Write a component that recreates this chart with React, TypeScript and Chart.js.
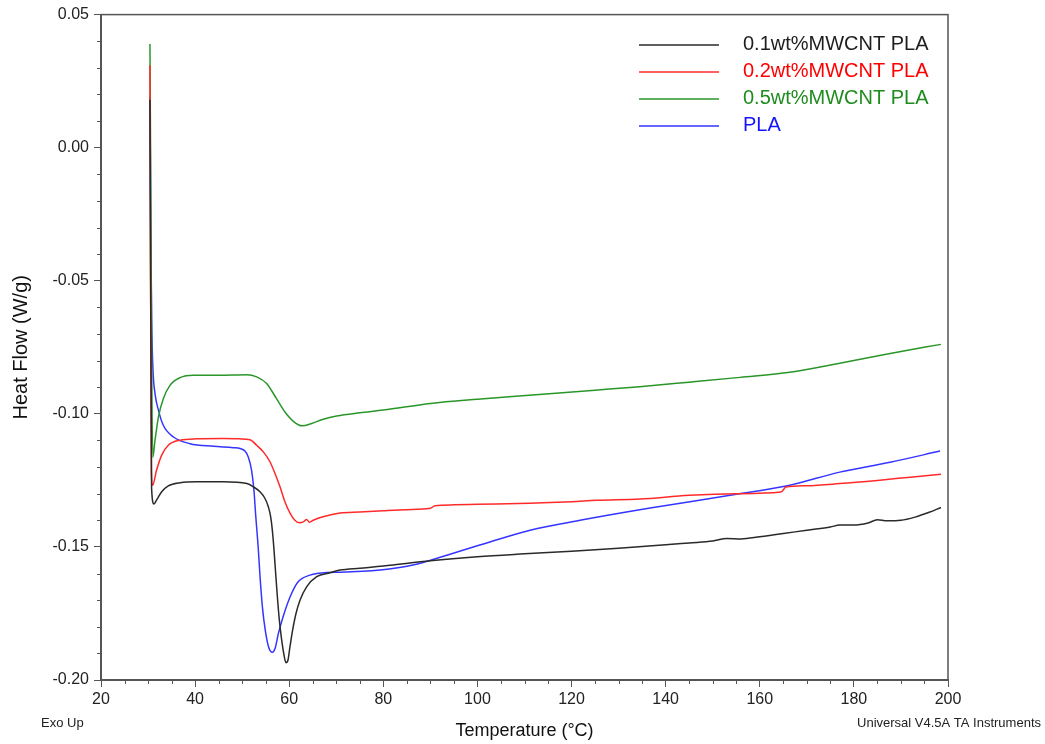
import { useEffect, useRef } from 'react';
import { Chart, registerables } from 'chart.js';

Chart.register(...registerables);

// ---------- data ----------
const seriesLabels = ['0.1wt%MWCNT PLA', '0.2wt%MWCNT PLA', '0.5wt%MWCNT PLA', 'PLA'];
const seriesColors = ['#2a2a2a', '#ff2a2a', '#2a962a', '#3535ff'];
const legendTextColors = ['#1e1e1e', '#ff0000', '#1f8c1f', '#1414ff'];

const tempBlack = [30.4, 30.75, 31.26, 31.8, 32.9, 34.3, 36.8, 40.3, 46, 51.0, 52.37, 53.79, 54.85, 55.56, 56.06, 56.41, 56.77, 57.12, 57.48, 57.9, 58.4, 58.89, 59.31, 59.74, 60.16, 60.73, 61.44, 62.29, 63.7, 65.83, 68.66, 70.79, 75, 80, 90, 100, 110, 120, 130, 140, 145, 150, 153, 156, 160, 165, 170, 175, 177, 180, 183, 185, 187, 190, 193, 196, 198.5];
const heatBlack = [0.018, -0.128, -0.1339, -0.1324, -0.1293, -0.1271, -0.1259, -0.1255, -0.1255, -0.1262, -0.1274, -0.1293, -0.1318, -0.1349, -0.1387, -0.1437, -0.1512, -0.16, -0.1687, -0.1775, -0.185, -0.1906, -0.1935, -0.1925, -0.1875, -0.1812, -0.175, -0.17, -0.165, -0.1612, -0.1597, -0.1587, -0.158, -0.1572, -0.1552, -0.1537, -0.1526, -0.1516, -0.1505, -0.1492, -0.1485, -0.1478, -0.1468, -0.147, -0.1462, -0.145, -0.1437, -0.1425, -0.1418, -0.1418, -0.141, -0.1398, -0.1402, -0.14, -0.1388, -0.137, -0.1352];

const tempRed = [30.4, 30.7, 30.97, 31.8, 32.9, 34.3, 36.8, 40.3, 46, 49.5, 51.66, 53.08, 54.5, 55.9, 56.98, 58.04, 59.1, 60.2, 61.2, 62.1, 63.0, 63.7, 64.3, 65.1, 67.2, 70.8, 75, 80, 85, 90, 91, 95, 100, 111, 120, 125.4, 134.5, 145, 155, 164.5, 165.6, 170, 177, 185, 192, 198.5];
const heatRed = [0.031, -0.122, -0.1268, -0.1212, -0.1155, -0.1118, -0.1099, -0.1094, -0.1093, -0.1094, -0.1097, -0.1118, -0.1143, -0.118, -0.1224, -0.1274, -0.1331, -0.1374, -0.14, -0.1409, -0.1406, -0.1397, -0.1407, -0.14, -0.1387, -0.1373, -0.1369, -0.1364, -0.136, -0.1355, -0.1345, -0.1342, -0.134, -0.1336, -0.133, -0.1325, -0.132, -0.1306, -0.13, -0.1294, -0.1275, -0.127, -0.1262, -0.125, -0.1238, -0.1227];

const tempGreen = [30.4, 31.0, 31.48, 32.2, 33.24, 34.66, 36.8, 39.6, 45, 50.96, 53.08, 55.2, 57.3, 59.1, 60.87, 62.78, 64.77, 67.24, 70.08, 75, 80, 90, 100, 111, 125, 134.5, 145, 155.8, 166.4, 177, 187.7, 198.5];
const heatGreen = [0.039, -0.1163, -0.1099, -0.1012, -0.0943, -0.0893, -0.0864, -0.0855, -0.0855, -0.0853, -0.0861, -0.0886, -0.0943, -0.0993, -0.1028, -0.1045, -0.1036, -0.102, -0.1008, -0.0996, -0.0986, -0.0961, -0.0945, -0.093, -0.0911, -0.0898, -0.0881, -0.0863, -0.0844, -0.081, -0.0773, -0.0739];

const tempBlue = [30.4, 30.5, 30.56, 30.77, 31.05, 31.48, 32.2, 33.24, 35.4, 38.9, 43.9, 48.1, 49.54, 50.6, 51.3, 52.0, 52.5, 52.9, 53.4, 53.8, 54.3, 54.9, 55.6, 56.4, 57.0, 57.7, 58.7, 60.2, 61.9, 64.4, 67.95, 70.8, 79.3, 86.3, 93.5, 100.5, 111.2, 121.8, 136.7, 153.7, 166.4, 177, 187.7, 198.3];
const heatBlue = [0.019, -0.005, -0.0273, -0.0649, -0.0836, -0.0924, -0.0986, -0.1043, -0.1087, -0.1112, -0.1122, -0.1127, -0.113, -0.114, -0.1162, -0.1212, -0.1287, -0.1387, -0.15, -0.1612, -0.1725, -0.1812, -0.1875, -0.1896, -0.1881, -0.1825, -0.1762, -0.1687, -0.1631, -0.1606, -0.1596, -0.1595, -0.1587, -0.1568, -0.1531, -0.1493, -0.1437, -0.14, -0.1354, -0.1306, -0.1268, -0.1219, -0.1182, -0.114];

const xTitle = 'Temperature (°C)';
const yTitle = 'Heat Flow (W/g)';
const noteLeft = 'Exo Up';
const noteRight = 'Universal V4.5A TA Instruments';

const FONT = "'Liberation Sans', Arial, Helvetica, sans-serif";
const AXIS = '#555555';

const toPoints = (xs: number[], ys: number[]) => xs.map((x, i) => ({ x, y: ys[i] }));

const extras = {
  id: 'extras',
  afterDraw(chart: any) {
    const { ctx, chartArea } = chart;
    const { left, right, top, bottom } = chartArea;
    const xs = chart.scales.x;
    const ys = chart.scales.y;
    ctx.save();
    // frame
    ctx.strokeStyle = AXIS;
    ctx.lineWidth = 1.5;
    ctx.strokeRect(left, top, right - left, bottom - top);
    // minor ticks
    ctx.lineWidth = 1;
    ctx.beginPath();
    for (let v = 25; v < 200; v += 5) {
      if (v % 20 === 0) continue;
      const px = Math.round(xs.getPixelForValue(v)) + 0.5;
      ctx.moveTo(px, bottom);
      ctx.lineTo(px, bottom + 4);
    }
    for (let k = -19; k < 5; k++) {
      if (k % 5 === 0) continue;
      const py = Math.round(ys.getPixelForValue(k / 100)) + 0.5;
      ctx.moveTo(left - 4, py);
      ctx.lineTo(left, py);
    }
    ctx.stroke();
    // legend
    chart.data.datasets.forEach((ds: any, i: number) => {
      const y = 45 + i * 27;
      ctx.strokeStyle = ds.borderColor;
      ctx.lineWidth = 1.5;
      ctx.beginPath();
      ctx.moveTo(639, y);
      ctx.lineTo(719, y);
      ctx.stroke();
      ctx.fillStyle = legendTextColors[i];
      ctx.font = `20px ${FONT}`;
      ctx.textAlign = 'left';
      ctx.textBaseline = 'middle';
      ctx.fillText(ds.label, 743, y - 1);
    });
    // footnotes
    ctx.fillStyle = '#222';
    ctx.font = `13px ${FONT}`;
    ctx.textBaseline = 'middle';
    ctx.textAlign = 'left';
    ctx.fillText(noteLeft, 41, 723);
    ctx.textAlign = 'right';
    ctx.fillText(noteRight, 1041, 723);
    ctx.restore();
  },
};

export default function App() {
  const ref = useRef<HTMLCanvasElement>(null);
  useEffect(() => {
    const canvas = ref.current;
    if (!canvas) return;
    const series = [
      toPoints(tempBlack, heatBlack),
      toPoints(tempRed, heatRed),
      toPoints(tempGreen, heatGreen),
      toPoints(tempBlue, heatBlue),
    ];
    const chart = new Chart(canvas, {
      type: 'line',
      data: {
        datasets: series.map((data, i) => ({
          label: seriesLabels[i],
          data,
          borderColor: seriesColors[i],
          backgroundColor: seriesColors[i],
          borderWidth: 1.5,
          pointRadius: 0,
          fill: false,
          cubicInterpolationMode: 'monotone' as const,
        })),
      },
      options: {
        responsive: false,
        animation: false,
        devicePixelRatio: 1,
        layout: { padding: { top: 14, right: 97, left: 0, bottom: 0 } },
        plugins: {
          legend: { display: false },
          tooltip: { enabled: false },
        },
        scales: {
          x: {
            type: 'linear',
            min: 20,
            max: 200,
            afterFit: (s: any) => { s.height = 64; },
            border: { display: true, color: AXIS, width: 2 },
            grid: { display: true, drawOnChartArea: false, drawTicks: true, tickLength: 7, tickColor: AXIS, tickWidth: 1 },
            ticks: { stepSize: 20, autoSkip: false, maxRotation: 0, padding: 3, color: '#222', font: { family: FONT, size: 16 } },
            title: { display: true, text: xTitle, color: '#111', font: { family: FONT, size: 18 }, padding: { top: 0, bottom: 2 } },
          },
          y: {
            type: 'linear',
            min: -0.2,
            max: 0.05,
            afterFit: (s: any) => { s.width = 101; },
            border: { display: true, color: AXIS, width: 2 },
            grid: { display: true, drawOnChartArea: false, drawTicks: true, tickLength: 7, tickColor: AXIS, tickWidth: 1 },
            ticks: {
              stepSize: 0.05,
              autoSkip: false,
              padding: 5,
              color: '#222',
              font: { family: FONT, size: 16 },
              callback: (v: any) => (Math.abs(Number(v)) < 1e-9 ? '0.00' : Number(v).toFixed(2)),
            },
            title: { display: true, text: yTitle, color: '#111', font: { family: FONT, size: 20 }, padding: { top: 9, bottom: 0 } },
          },
        },
      },
      plugins: [extras],
    });
    return () => chart.destroy();
  }, []);
  return (
    <div style={{ position: 'absolute', left: 0, top: 0, width: 1045, height: 744, background: '#ffffff' }}>
      <canvas ref={ref} width={1045} height={744} style={{ display: 'block', width: 1045, height: 744 }} />
    </div>
  );
}
